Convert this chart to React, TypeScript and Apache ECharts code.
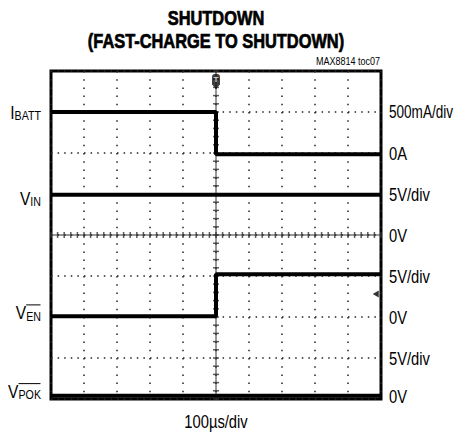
import React, { useEffect, useRef } from "react";
import * as echarts from "echarts";

const FONT = "'Liberation Sans', Arial, sans-serif";
const NARROW = 0.82; // horizontal squeeze to imitate a narrow Helvetica
const PAGE_W = 454;

// Time axis: 10 divisions of 100µs; vertical: 8 divisions (0 = bottom)
const xDivs = 10;
const yDivs = 8;

// Traces in screen divisions: [time div, level div]
const ibattTrace = [[0, 7.0], [5, 7.0], [5, 5.97], [10, 5.97]];
const vinTrace = [[0, 4.98], [10, 4.98]];
const venTrace = [[0, 2.02], [5, 2.02], [5, 3.04], [10, 3.04]];
const vpokTrace = [[0, 0.08], [10, 0.08]];

// Markers
const triggerPos = [[5, 7.75]];
const groundMarkerPos = [[9.84, 2.56]];

// Right-hand scale texts, one per horizontal division line (0 = bottom)
const rightLabels = ["0V", "5V/div", "0V", "5V/div", "0V", "5V/div", "0A", "500mA/div"];
const rightLevels = [0.06, 1, 2, 3, 4, 5, 6, 7];

// Left-hand channel names
const channelMain = ["I", "V", "V", "V"];
const channelSub = ["BATT", "IN", "EN", "POK"];
const channelLevels = [7.0, 4.9, 2.1, 0.18];
const channelOverline = [false, false, true, true];

const titleLine1 = "SHUTDOWN";
const titleLine2 = "(FAST-CHARGE TO SHUTDOWN)";
const figureId = "MAX8814 toc07";
const timeScale = "100µs/div";

const PIN_SYMBOL = "path://M3,0 C5,0 6,1 6,3 L6,10 L3,14 L0,10 L0,3 C0,1 1,0 3,0 Z";

export default function App() {
  const ref = useRef<HTMLDivElement>(null);
  useEffect(() => {
    document.body.style.margin = "0";
    const chart = echarts.init(ref.current!, null, { renderer: "svg" });

    const vTicks: number[][] = [];
    for (let k = 0; k <= yDivs * 5; k++) vTicks.push([5, k * 0.2]);
    const hTicks: number[][] = [];
    for (let k = 0; k <= xDivs * 5; k++) hTicks.push([k * 0.2, 4]);

    const traceStyle = { color: "#000", width: 4 };
    const mkTrace = (data: number[][]) => ({
      type: "line",
      data,
      showSymbol: false,
      symbol: "none",
      lineStyle: traceStyle,
      z: 5,
      silent: true,
    });

    const option: any = {
      animation: false,
      textStyle: { fontFamily: FONT },
      grid: {
        left: 51,
        top: 71,
        width: 330,
        height: 328,
        show: true,
        borderColor: "#000",
        borderWidth: 3,
        backgroundColor: "transparent",
        outerBoundsMode: "none",
        containLabel: false,
      },
      xAxis: {
        type: "value",
        min: 0,
        max: xDivs,
        interval: 1,
        axisLine: { show: false },
        axisTick: { show: false },
        axisLabel: { show: false },
        splitLine: { show: true, lineStyle: { color: "#222", width: 1.5, type: [1.5, 6.7] } },
      },
      yAxis: {
        type: "value",
        min: 0,
        max: yDivs,
        interval: 1,
        axisLine: { show: false },
        axisTick: { show: false },
        axisLabel: { show: false },
        splitLine: { show: true, lineStyle: { color: "#222", width: 1.5, type: [1.5, 5.1] } },
      },
      series: [
        {
          type: "line",
          data: [[5, 0], [5, yDivs]],
          showSymbol: false,
          symbol: "none",
          lineStyle: { color: "#333", width: 1 },
          z: 3,
          silent: true,
        },
        {
          type: "line",
          data: [[0, 4], [xDivs, 4]],
          showSymbol: false,
          symbol: "none",
          lineStyle: { color: "#333", width: 1 },
          z: 3,
          silent: true,
        },
        {
          type: "scatter",
          data: vTicks,
          symbol: "rect",
          symbolSize: [6, 1.5],
          itemStyle: { color: "#333" },
          z: 3,
          silent: true,
        },
        {
          type: "scatter",
          data: hTicks,
          symbol: "rect",
          symbolSize: [1.5, 6],
          itemStyle: { color: "#333" },
          z: 3,
          silent: true,
        },
        mkTrace(ibattTrace),
        mkTrace(vinTrace),
        mkTrace(venTrace),
        mkTrace(vpokTrace),
        {
          type: "scatter",
          data: triggerPos,
          symbol: PIN_SYMBOL,
          symbolSize: [8, 15],
          itemStyle: { color: "#111" },
          label: {
            show: true,
            position: "inside",
            formatter: "T",
            color: "#fff",
            fontSize: 8,
            fontWeight: "bold",
            fontFamily: FONT,
            offset: [0, -1.5],
          },
          z: 6,
          clip: false,
          silent: true,
        },
        {
          type: "scatter",
          data: groundMarkerPos,
          symbol: "triangle",
          symbolRotate: 90,
          symbolSize: [7, 6],
          itemStyle: { color: "#000" },
          z: 6,
          silent: true,
        },
      ],
    };
    chart.setOption(option);

    const yPix = (v: number) => chart.convertToPixel({ yAxisIndex: 0 }, v) as number;
    const xPix = (v: number) => chart.convertToPixel({ xAxisIndex: 0 }, v) as number;
    const gridRight = xPix(xDivs);
    const gridLeft = xPix(0);
    const gridBottom = yPix(0);
    const centerX = xPix(xDivs / 2);

    const measure = (t: string, size: number, bold = false) => {
      const fmt: any = echarts.format as any;
      if (fmt && fmt.getTextRect) {
        return fmt.getTextRect(t, `${bold ? "bold " : ""}${size}px ${FONT}`).width;
      }
      return t.length * size * 0.55;
    };

    const text = (
      x: number,
      y: number,
      t: string,
      size: number,
      align: string,
      bold = false,
      sx = NARROW
    ) => ({
      type: "text",
      x,
      y,
      scaleX: sx,
      silent: true,
      style: {
        text: t,
        fontSize: size,
        fontFamily: FONT,
        fontWeight: bold ? "bold" : "normal",
        fill: "#000",
        stroke: bold ? "#000" : undefined,
        lineWidth: bold ? 0.7 : 0,
        align,
        verticalAlign: "middle",
      },
    });

    const graphics: any[] = [];
    graphics.push(text(centerX, 18, titleLine1, 20, "center", true));
    graphics.push(text(centerX, 41, titleLine2, 20, "center", true));
    graphics.push(text(gridRight - 1, 61, figureId, 11, "right"));
    graphics.push(text(centerX, gridBottom + 22, timeScale, 18, "center"));

    const rightX = gridRight + 8;
    rightLabels.forEach((lab, i) => {
      const w = measure(lab, 18);
      const room = PAGE_W - 1 - rightX;
      const sx = Math.min(NARROW, room / w);
      graphics.push(text(rightX, yPix(rightLevels[i]), lab, 18, "left", false, sx));
    });

    const labelRight = gridLeft - 10;
    const subSize = 13;
    channelMain.forEach((m, i) => {
      const y = yPix(channelLevels[i]);
      graphics.push({
        type: "text",
        x: labelRight,
        y,
        scaleX: NARROW,
        silent: true,
        style: {
          text: `{m|${m}}{s|${channelSub[i]}}`,
          align: "right",
          verticalAlign: "middle",
          fill: "#000",
          rich: {
            m: { fontSize: 19, fontFamily: FONT, fill: "#000" },
            s: { fontSize: subSize, fontFamily: FONT, fill: "#000", padding: [7, 0, 0, 0] },
          },
        },
      });
      if (channelOverline[i]) {
        const w = measure(channelSub[i], subSize) * NARROW;
        graphics.push({
          type: "line",
          silent: true,
          shape: { x1: labelRight - w, y1: y - 8, x2: labelRight - 0.5, y2: y - 8 },
          style: { stroke: "#000", lineWidth: 1 },
        });
      }
    });

    chart.setOption({ graphic: graphics });
    return () => chart.dispose();
  }, []);
  return <div ref={ref} style={{ width: 454, height: 434 }} />;
}
